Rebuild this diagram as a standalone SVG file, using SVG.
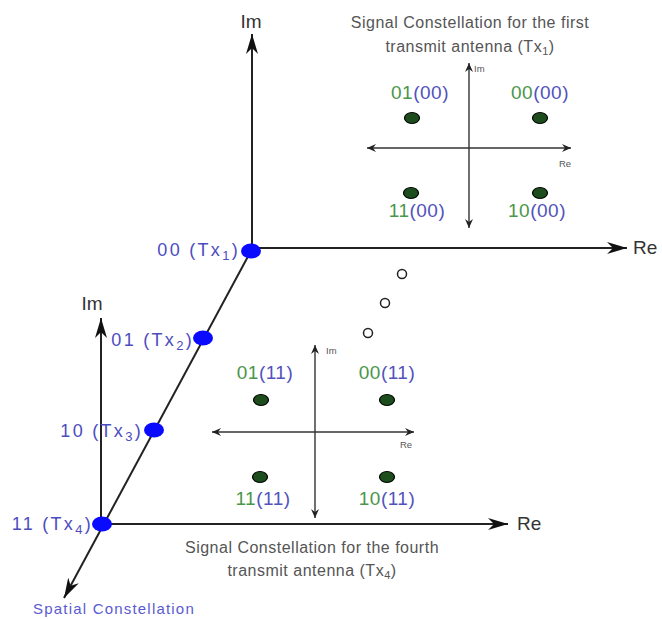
<svg xmlns="http://www.w3.org/2000/svg" width="662" height="619" viewBox="0 0 662 619">
<style>
text{font-family:"Liberation Sans",Arial,sans-serif}
.ax{stroke:#222;stroke-width:2;fill:none}
.sax{stroke:#333;stroke-width:1.4;fill:none}
.big{font-size:19px;fill:#333}
.tiny{font-size:9.5px;fill:#555}
.title{font-size:16px;fill:#555;letter-spacing:0.5px}
.lbl{font-size:19px;letter-spacing:0.5px}
.g{fill:#4a964a}
.b{fill:#5252bc}
.tx{font-size:18px;fill:#4c4cc0;letter-spacing:2.3px}
.sub{font-size:13px}
.tsub{font-size:11px}
.gd{fill:#1d4d1d;stroke:#000;stroke-width:1.2}
.bd{fill:#0a0aff}
.oc{fill:#fff;stroke:#222;stroke-width:1.5}
</style>
<defs>
<marker id="ah" markerUnits="userSpaceOnUse" markerWidth="22" markerHeight="12" refX="20" refY="6" orient="auto">
<path d="M0,0 L20,6 L0,12 L6,6 z" fill="#111"/>
</marker>
<marker id="sah" markerUnits="userSpaceOnUse" markerWidth="10" markerHeight="8" refX="9" refY="4" orient="auto-start-reverse">
<path d="M0,0 L9,4 L0,8 L3,4 z" fill="#222"/>
</marker>
</defs>
<rect width="662" height="619" fill="#fff"/>

<g id="connectors">
<line class="ax" x1="252" y1="249" x2="252" y2="34" marker-end="url(#ah)"/>
<line class="ax" x1="252" y1="248" x2="627" y2="248" marker-end="url(#ah)"/>
<line class="ax" x1="101" y1="524" x2="101" y2="318" marker-end="url(#ah)"/>
<line class="ax" x1="101" y1="524" x2="508" y2="524" marker-end="url(#ah)"/>
<line class="ax" x1="252" y1="249" x2="64" y2="598" marker-end="url(#ah)"/>
<line class="sax" x1="469" y1="148" x2="469" y2="63" marker-end="url(#sah)"/>
<line class="sax" x1="469" y1="148" x2="469" y2="228" marker-end="url(#sah)"/>
<line class="sax" x1="469" y1="148" x2="367" y2="148" marker-end="url(#sah)"/>
<line class="sax" x1="469" y1="148" x2="571" y2="148" marker-end="url(#sah)"/>
<line class="sax" x1="315" y1="432" x2="315" y2="345" marker-end="url(#sah)"/>
<line class="sax" x1="315" y1="432" x2="315" y2="518" marker-end="url(#sah)"/>
<line class="sax" x1="315" y1="432" x2="212" y2="432" marker-end="url(#sah)"/>
<line class="sax" x1="315" y1="432" x2="414" y2="432" marker-end="url(#sah)"/>
</g>

<g id="axis-labels">
<text class="big" x="251" y="28" text-anchor="middle">Im</text>
<text class="big" x="633" y="254">Re</text>
<text class="big" x="92" y="310" text-anchor="middle">Im</text>
<text class="big" x="517" y="530">Re</text>
<text class="tiny" x="474" y="72">Im</text>
<text class="tiny" x="559" y="167">Re</text>
<text class="tiny" x="326" y="354">Im</text>
<text class="tiny" x="400" y="448">Re</text>
</g>

<g id="title-tx1">
<text class="title" x="470" y="28" text-anchor="middle">Signal Constellation for the first</text>
<text class="title" x="470" y="52" text-anchor="middle">transmit antenna (Tx<tspan class="tsub" dy="3">1</tspan><tspan dy="-3">)</tspan></text>
</g>
<g id="title-tx4">
<text class="title" x="312" y="553" text-anchor="middle">Signal Constellation for the fourth</text>
<text class="title" x="312" y="576" text-anchor="middle">transmit antenna (Tx<tspan class="tsub" dy="3">4</tspan><tspan dy="-3">)</tspan></text>
</g>

<g id="node-0100">
<ellipse class="gd" cx="412" cy="118" rx="7.5" ry="5.5"/>
<text class="lbl" x="420" y="99" text-anchor="middle"><tspan class="g">01</tspan><tspan class="b">(00)</tspan></text>
</g>
<g id="node-0000">
<ellipse class="gd" cx="540" cy="118" rx="7.5" ry="5.5"/>
<text class="lbl" x="540" y="99" text-anchor="middle"><tspan class="g">00</tspan><tspan class="b">(00)</tspan></text>
</g>
<g id="node-1100">
<ellipse class="gd" cx="411" cy="193" rx="7.5" ry="5.5"/>
<text class="lbl" x="417" y="217" text-anchor="middle"><tspan class="g">11</tspan><tspan class="b">(00)</tspan></text>
</g>
<g id="node-1000">
<ellipse class="gd" cx="540" cy="193" rx="7.5" ry="5.5"/>
<text class="lbl" x="537" y="217" text-anchor="middle"><tspan class="g">10</tspan><tspan class="b">(00)</tspan></text>
</g>

<g id="node-0111">
<ellipse class="gd" cx="261" cy="400" rx="7.5" ry="5.5"/>
<text class="lbl" x="265" y="379" text-anchor="middle"><tspan class="g">01</tspan><tspan class="b">(11)</tspan></text>
</g>
<g id="node-0011">
<ellipse class="gd" cx="387" cy="400" rx="7.5" ry="5.5"/>
<text class="lbl" x="387" y="379" text-anchor="middle"><tspan class="g">00</tspan><tspan class="b">(11)</tspan></text>
</g>
<g id="node-1111">
<ellipse class="gd" cx="260" cy="477" rx="7.5" ry="5.5"/>
<text class="lbl" x="263" y="505" text-anchor="middle"><tspan class="g">11</tspan><tspan class="b">(11)</tspan></text>
</g>
<g id="node-1011">
<ellipse class="gd" cx="387" cy="477" rx="7.5" ry="5.5"/>
<text class="lbl" x="387" y="505" text-anchor="middle"><tspan class="g">10</tspan><tspan class="b">(11)</tspan></text>
</g>

<g id="ellipsis">
<circle class="oc" cx="402" cy="274" r="4.5"/>
<circle class="oc" cx="385" cy="303" r="4.5"/>
<circle class="oc" cx="368" cy="333" r="4.5"/>
</g>

<g id="node-tx1">
<ellipse class="bd" cx="251" cy="251" rx="10" ry="7.5"/>
<text class="tx" x="240" y="256" text-anchor="end">00 (Tx<tspan class="sub" dy="4">1</tspan><tspan dy="-4">)</tspan></text>
</g>
<g id="node-tx2">
<ellipse class="bd" cx="203" cy="338" rx="10" ry="7.5"/>
<text class="tx" x="194" y="346" text-anchor="end">01 (Tx<tspan class="sub" dy="4">2</tspan><tspan dy="-4">)</tspan></text>
</g>
<g id="node-tx3">
<ellipse class="bd" cx="154" cy="430" rx="10" ry="7.5"/>
<text class="tx" x="143" y="437" text-anchor="end">10 (Tx<tspan class="sub" dy="4">3</tspan><tspan dy="-4">)</tspan></text>
</g>
<g id="node-tx4">
<ellipse class="bd" cx="102" cy="524" rx="10" ry="7.5"/>
<text class="tx" x="93" y="530" text-anchor="end">11 (Tx<tspan class="sub" dy="4">4</tspan><tspan dy="-4">)</tspan></text>
</g>

<g id="spatial-label">
<text x="33" y="614" style="font-size:15px;fill:#5a5ad0;letter-spacing:1.2px">Spatial Constellation</text>
</g>
</svg>
